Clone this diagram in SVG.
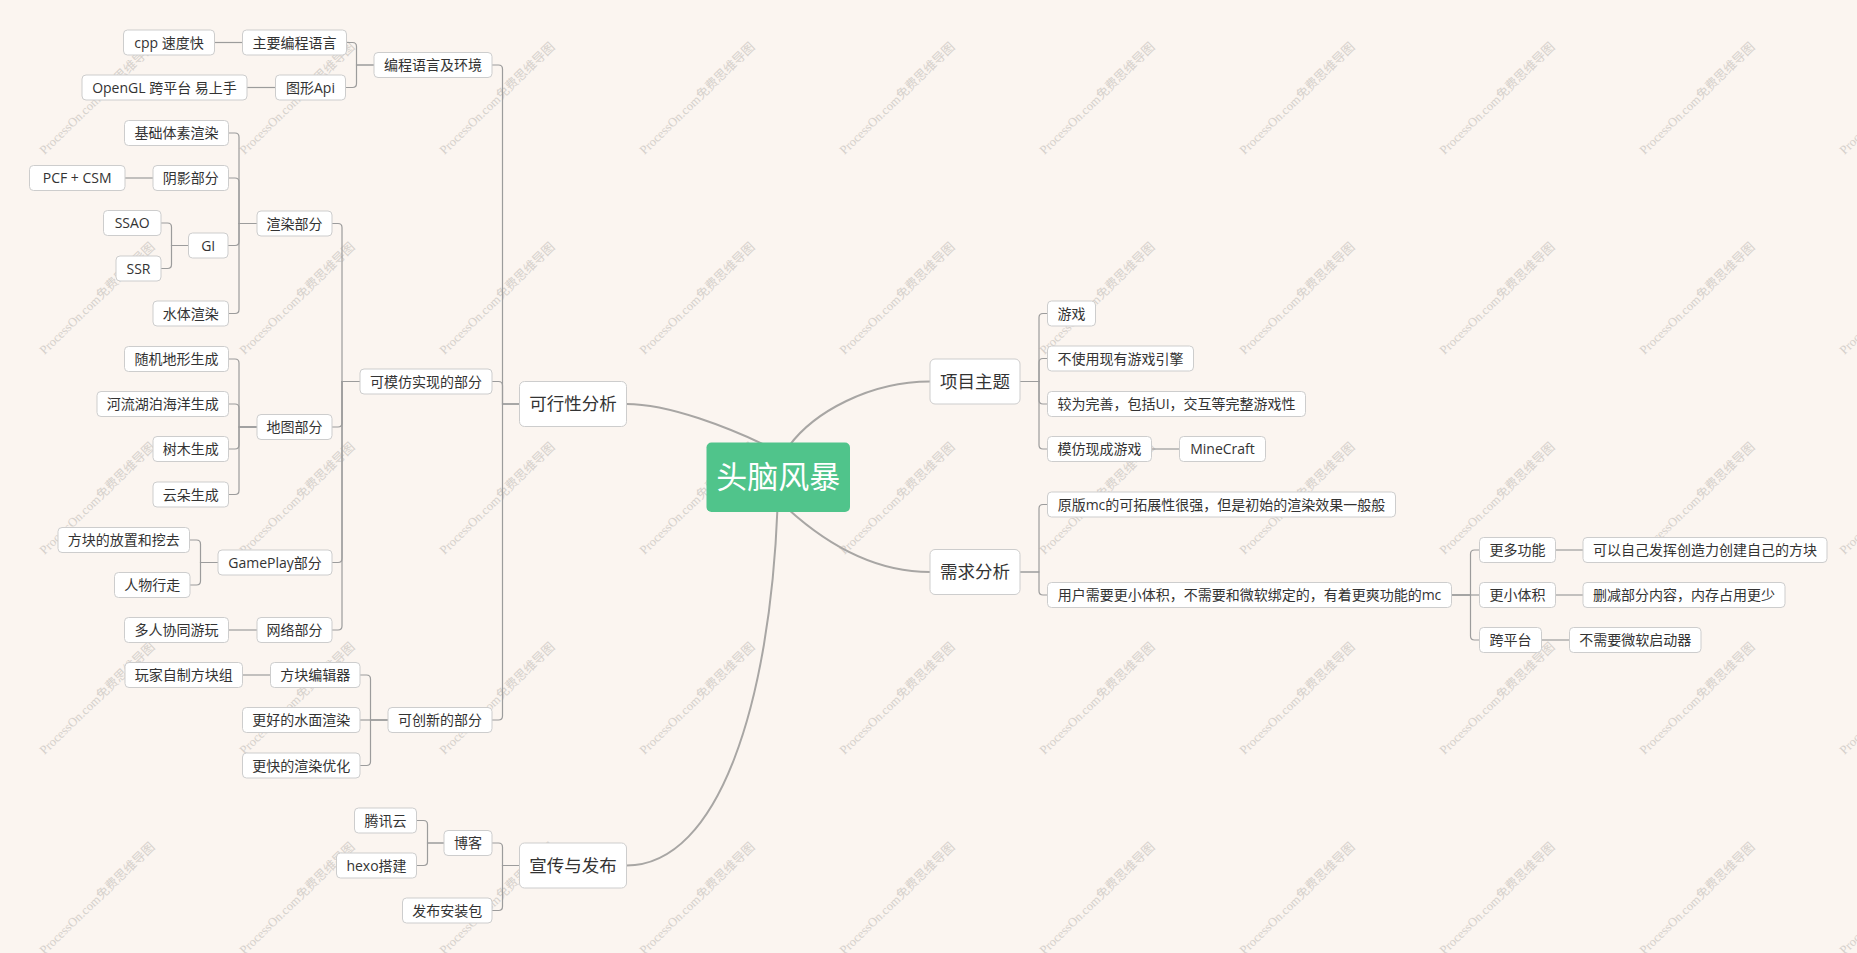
<svg xmlns="http://www.w3.org/2000/svg" xmlns:xlink="http://www.w3.org/1999/xlink" width="1857" height="953" viewBox="0 0 1857 953">
<style>
.bg{fill:#fbf5f0}
.wm{font-family:"Liberation Serif","Noto Sans CJK SC",serif;font-size:12.6px;fill:#d6d1cc}
.n rect{fill:#ffffff;stroke:#cdcdcd;stroke-width:1}
.n text{font-family:"Open Sans","Noto Sans CJK SC",sans-serif;font-size:14px;fill:#333333;text-anchor:middle}
.n2 rect{fill:#ffffff;stroke:#cdcdcd;stroke-width:1}
.n2 text{font-family:"Open Sans","Noto Sans CJK SC",sans-serif;font-size:17.5px;fill:#333333;text-anchor:middle}
.root rect{fill:#50c48b}
.root text{font-family:"Noto Sans CJK SC","Noto Sans",sans-serif;font-size:31px;fill:#ffffff;text-anchor:middle}
.c path{fill:none;stroke:#9c9c9c;stroke-width:1.2}
.m path{fill:none;stroke:#a8a6a4;stroke-width:2}
</style>
<defs>
<g id="wm"><text class="wm" transform="rotate(-44)">ProcessOn.com免费思维导图</text></g>
</defs>
<rect class="bg" x="0" y="0" width="1857" height="953"/>
<g id="watermarks">
<use xlink:href="#wm" x="44.6" y="155"/><use xlink:href="#wm" x="244.6" y="155"/><use xlink:href="#wm" x="444.6" y="155"/><use xlink:href="#wm" x="644.6" y="155"/><use xlink:href="#wm" x="844.6" y="155"/><use xlink:href="#wm" x="1044.6" y="155"/><use xlink:href="#wm" x="1244.6" y="155"/><use xlink:href="#wm" x="1444.6" y="155"/><use xlink:href="#wm" x="1644.6" y="155"/><use xlink:href="#wm" x="1844.6" y="155"/>
<use xlink:href="#wm" x="44.6" y="355"/><use xlink:href="#wm" x="244.6" y="355"/><use xlink:href="#wm" x="444.6" y="355"/><use xlink:href="#wm" x="644.6" y="355"/><use xlink:href="#wm" x="844.6" y="355"/><use xlink:href="#wm" x="1044.6" y="355"/><use xlink:href="#wm" x="1244.6" y="355"/><use xlink:href="#wm" x="1444.6" y="355"/><use xlink:href="#wm" x="1644.6" y="355"/><use xlink:href="#wm" x="1844.6" y="355"/>
<use xlink:href="#wm" x="44.6" y="555"/><use xlink:href="#wm" x="244.6" y="555"/><use xlink:href="#wm" x="444.6" y="555"/><use xlink:href="#wm" x="644.6" y="555"/><use xlink:href="#wm" x="844.6" y="555"/><use xlink:href="#wm" x="1044.6" y="555"/><use xlink:href="#wm" x="1244.6" y="555"/><use xlink:href="#wm" x="1444.6" y="555"/><use xlink:href="#wm" x="1644.6" y="555"/><use xlink:href="#wm" x="1844.6" y="555"/>
<use xlink:href="#wm" x="44.6" y="755"/><use xlink:href="#wm" x="244.6" y="755"/><use xlink:href="#wm" x="444.6" y="755"/><use xlink:href="#wm" x="644.6" y="755"/><use xlink:href="#wm" x="844.6" y="755"/><use xlink:href="#wm" x="1044.6" y="755"/><use xlink:href="#wm" x="1244.6" y="755"/><use xlink:href="#wm" x="1444.6" y="755"/><use xlink:href="#wm" x="1644.6" y="755"/><use xlink:href="#wm" x="1844.6" y="755"/>
<use xlink:href="#wm" x="44.6" y="955"/><use xlink:href="#wm" x="244.6" y="955"/><use xlink:href="#wm" x="444.6" y="955"/><use xlink:href="#wm" x="644.6" y="955"/><use xlink:href="#wm" x="844.6" y="955"/><use xlink:href="#wm" x="1044.6" y="955"/><use xlink:href="#wm" x="1244.6" y="955"/><use xlink:href="#wm" x="1444.6" y="955"/><use xlink:href="#wm" x="1644.6" y="955"/><use xlink:href="#wm" x="1844.6" y="955"/>
</g>
<g id="connectors">
<g class="m">
<path d="M765 445 C730 428.5 670 404 626.5 404"/>
<path d="M789 446 C814 412 870 381.5 930 381.5"/>
<path d="M788 509 C821 539 870 572 930 572"/>
<path d="M777.5 508 C770 700 720 865.5 626.5 865.5"/>
</g>
<g class="c">
<path d="M374 65 H356.5 V46.5 Q356.5 42.5 352.5 42.5 H346.5"/>
<path d="M374 65 H356.5 V83.5 Q356.5 87.5 352.5 87.5 H345.5"/>
<path d="M242.5 42.5 H214.5"/>
<path d="M275.5 87.5 H247"/>
<path d="M519.5 404 H502.5 V69 Q502.5 65 498.5 65 H492"/>
<path d="M519.5 404 H502.5 V385.5 Q502.5 381.5 498.5 381.5 H492"/>
<path d="M519.5 404 H502.5 V716 Q502.5 720 498.5 720 H492"/>
<path d="M360 381.5 H342 V227.5 Q342 223.5 338 223.5 H332"/>
<path d="M360 381.5 H342 V423 Q342 427 338 427 H332"/>
<path d="M360 381.5 H342 V558.5 Q342 562.5 338 562.5 H332"/>
<path d="M360 381.5 H342 V626 Q342 630 338 630 H332"/>
<path d="M257 223.5 H239 V137 Q239 133 235 133 H228.5"/>
<path d="M257 223.5 H239 V182 Q239 178 235 178 H228.5"/>
<path d="M257 223.5 H239 V241.5 Q239 245.5 235 245.5 H228"/>
<path d="M257 223.5 H239 V309.5 Q239 313.5 235 313.5 H228.5"/>
<path d="M153 178 H125"/>
<path d="M188.5 245.5 H171.5 V227 Q171.5 223 167.5 223 H161"/>
<path d="M188.5 245.5 H171.5 V264.5 Q171.5 268.5 167.5 268.5 H161"/>
<path d="M257 427 H239 V363 Q239 359 235 359 H228.5"/>
<path d="M257 427 H239 V408 Q239 404 235 404 H228.5"/>
<path d="M257 427 H239 V445 Q239 449 235 449 H228.5"/>
<path d="M257 427 H239 V490.5 Q239 494.5 235 494.5 H228.5"/>
<path d="M218 562.5 H200.5 V544 Q200.5 540 196.5 540 H189.5"/>
<path d="M218 562.5 H200.5 V581 Q200.5 585 196.5 585 H190"/>
<path d="M257 630 H228.5"/>
<path d="M388 720 H370.5 V679 Q370.5 675 366.5 675 H360"/>
<path d="M388 720 H360"/>
<path d="M388 720 H370.5 V761.5 Q370.5 765.5 366.5 765.5 H360"/>
<path d="M270.5 675 H242.5"/>
<path d="M519.5 865.5 H502.5 V847 Q502.5 843 498.5 843 H492"/>
<path d="M519.5 865.5 H502.5 V906.5 Q502.5 910.5 498.5 910.5 H492"/>
<path d="M444 843 H427.5 V824.5 Q427.5 820.5 423.5 820.5 H416.5"/>
<path d="M444 843 H427.5 V861.5 Q427.5 865.5 423.5 865.5 H416.5"/>
<path d="M1020 381.5 H1039 V317.5 Q1039 313.5 1043 313.5 H1047.5"/>
<path d="M1020 381.5 H1039 V362.5 Q1039 358.5 1043 358.5 H1047.5"/>
<path d="M1020 381.5 H1039 V400 Q1039 404 1043 404 H1047.5"/>
<path d="M1020 381.5 H1039 V445 Q1039 449 1043 449 H1047.5"/>
<path d="M1151.5 449 H1179.5"/>
<path d="M1020 572 H1039 V508.5 Q1039 504.5 1043 504.5 H1047.5"/>
<path d="M1020 572 H1039 V591 Q1039 595 1043 595 H1047.5"/>
<path d="M1451.5 595 H1470.5 V554 Q1470.5 550 1474.5 550 H1479.5"/>
<path d="M1451.5 595 H1479.5"/>
<path d="M1451.5 595 H1470.5 V636 Q1470.5 640 1474.5 640 H1479.5"/>
<path d="M1555.5 550 H1583"/>
<path d="M1555.5 595 H1583"/>
<path d="M1541.5 640 H1569.5"/>
</g>
</g>
<g id="root" class="root"><rect x="706.5" y="442.5" width="143.5" height="69.5" rx="5"/><text x="778.2" y="488">头脑风暴</text></g>
<g id="n-kxx" class="n2"><rect x="519.5" y="381.5" width="107" height="45" rx="5"/><text x="573" y="410.3">可行性分析</text></g>
<g id="n-xc" class="n2"><rect x="519.5" y="843" width="107" height="45" rx="5"/><text x="573" y="871.8">宣传与发布</text></g>
<g id="n-xm" class="n2"><rect x="930" y="359" width="90" height="45" rx="5"/><text x="975" y="387.8">项目主题</text></g>
<g id="n-xq" class="n2"><rect x="930" y="549.5" width="90" height="45" rx="5"/><text x="975" y="578.3">需求分析</text></g>
<g id="n1" class="n"><rect x="123.5" y="30" width="91" height="25" rx="4"/><text x="169" y="47.5">cpp 速度快</text></g>
<g id="n2" class="n"><rect x="242.5" y="30" width="104" height="25" rx="4"/><text x="294.5" y="47.5">主要编程语言</text></g>
<g id="n3" class="n"><rect x="275.5" y="75" width="70" height="25" rx="4"/><text x="310.5" y="92.5">图形Api</text></g>
<g id="n4" class="n"><rect x="82" y="75" width="165" height="25" rx="4"/><text x="164.5" y="92.5">OpenGL 跨平台 易上手</text></g>
<g id="n5" class="n"><rect x="374" y="52.5" width="118" height="25" rx="4"/><text x="433" y="70">编程语言及环境</text></g>
<g id="n6" class="n"><rect x="124.5" y="120.5" width="104" height="25" rx="4"/><text x="176.5" y="138">基础体素渲染</text></g>
<g id="n7" class="n"><rect x="153" y="165.5" width="75.5" height="25" rx="4"/><text x="190.7" y="183">阴影部分</text></g>
<g id="n8" class="n"><rect x="29.5" y="165.5" width="95.5" height="25" rx="4"/><text x="77.2" y="183">PCF + CSM</text></g>
<g id="n9" class="n"><rect x="257" y="211" width="75" height="25" rx="4"/><text x="294.5" y="228.5">渲染部分</text></g>
<g id="n10" class="n"><rect x="103.5" y="210.5" width="57.5" height="25" rx="4"/><text x="132.2" y="228">SSAO</text></g>
<g id="n11" class="n"><rect x="188.5" y="233" width="39.5" height="25" rx="4"/><text x="208.2" y="250.5">GI</text></g>
<g id="n12" class="n"><rect x="116" y="256" width="45" height="25" rx="4"/><text x="138.5" y="273.5">SSR</text></g>
<g id="n13" class="n"><rect x="153" y="301" width="75.5" height="25" rx="4"/><text x="190.7" y="318.5">水体渲染</text></g>
<g id="n14" class="n"><rect x="124.5" y="346.5" width="104" height="25" rx="4"/><text x="176.5" y="364">随机地形生成</text></g>
<g id="n15" class="n"><rect x="97" y="391.5" width="131.5" height="25" rx="4"/><text x="162.7" y="409">河流湖泊海洋生成</text></g>
<g id="n16" class="n"><rect x="153" y="436.5" width="75.5" height="25" rx="4"/><text x="190.7" y="454">树木生成</text></g>
<g id="n17" class="n"><rect x="153" y="482" width="75.5" height="25" rx="4"/><text x="190.7" y="499.5">云朵生成</text></g>
<g id="n18" class="n"><rect x="257" y="414.5" width="75" height="25" rx="4"/><text x="294.5" y="432">地图部分</text></g>
<g id="n19" class="n"><rect x="360" y="369" width="132" height="25" rx="4"/><text x="426" y="386.5">可模仿实现的部分</text></g>
<g id="n20" class="n"><rect x="58" y="527.5" width="131.5" height="25" rx="4"/><text x="123.7" y="545">方块的放置和挖去</text></g>
<g id="n21" class="n"><rect x="114.5" y="572.5" width="75.5" height="25" rx="4"/><text x="152.2" y="590">人物行走</text></g>
<g id="n22" class="n"><rect x="218" y="550" width="114" height="25" rx="4"/><text x="275" y="567.5">GamePlay部分</text></g>
<g id="n23" class="n"><rect x="124.5" y="617.5" width="104" height="25" rx="4"/><text x="176.5" y="635">多人协同游玩</text></g>
<g id="n24" class="n"><rect x="257" y="617.5" width="75" height="25" rx="4"/><text x="294.5" y="635">网络部分</text></g>
<g id="n25" class="n"><rect x="125" y="662.5" width="117.5" height="25" rx="4"/><text x="183.7" y="680">玩家自制方块组</text></g>
<g id="n26" class="n"><rect x="270.5" y="662.5" width="89.5" height="25" rx="4"/><text x="315.2" y="680">方块编辑器</text></g>
<g id="n27" class="n"><rect x="242.5" y="707.5" width="117.5" height="25" rx="4"/><text x="301.2" y="725">更好的水面渲染</text></g>
<g id="n28" class="n"><rect x="242.5" y="753" width="117.5" height="25" rx="4"/><text x="301.2" y="770.5">更快的渲染优化</text></g>
<g id="n29" class="n"><rect x="388" y="707.5" width="104" height="25" rx="4"/><text x="440" y="725">可创新的部分</text></g>
<g id="n30" class="n"><rect x="354.5" y="808" width="62" height="25" rx="4"/><text x="385.5" y="825.5">腾讯云</text></g>
<g id="n31" class="n"><rect x="336.5" y="853" width="80" height="25" rx="4"/><text x="376.5" y="870.5">hexo搭建</text></g>
<g id="n32" class="n"><rect x="444" y="830.5" width="48" height="25" rx="4"/><text x="468" y="848">博客</text></g>
<g id="n33" class="n"><rect x="402.5" y="898" width="89.5" height="25" rx="4"/><text x="447.2" y="915.5">发布安装包</text></g>
<g id="n34" class="n"><rect x="1047.5" y="301" width="48" height="25" rx="4"/><text x="1071.5" y="318.5">游戏</text></g>
<g id="n35" class="n"><rect x="1047.5" y="346" width="146" height="25" rx="4"/><text x="1120.5" y="363.5">不使用现有游戏引擎</text></g>
<g id="n36" class="n"><rect x="1047.5" y="391.5" width="258" height="25" rx="4"/><text x="1176.5" y="409">较为完善，包括UI，交互等完整游戏性</text></g>
<g id="n37" class="n"><rect x="1047.5" y="436.5" width="104" height="25" rx="4"/><text x="1099.5" y="454">模仿现成游戏</text></g>
<g id="n38" class="n"><rect x="1179.5" y="436.5" width="86" height="25" rx="4"/><text x="1222.5" y="454">MineCraft</text></g>
<g id="n39" class="n"><rect x="1047.5" y="492" width="348" height="25" rx="4"/><text x="1221.5" y="509.5">原版mc的可拓展性很强，但是初始的渲染效果一般般</text></g>
<g id="n40" class="n"><rect x="1047.5" y="582.5" width="404" height="25" rx="4"/><text x="1249.5" y="600">用户需要更小体积，不需要和微软绑定的，有着更爽功能的mc</text></g>
<g id="n41" class="n"><rect x="1479.5" y="537.5" width="76" height="25" rx="4"/><text x="1517.5" y="555">更多功能</text></g>
<g id="n42" class="n"><rect x="1583" y="537.5" width="244" height="25" rx="4"/><text x="1705" y="555">可以自己发挥创造力创建自己的方块</text></g>
<g id="n43" class="n"><rect x="1479.5" y="582.5" width="76" height="25" rx="4"/><text x="1517.5" y="600">更小体积</text></g>
<g id="n44" class="n"><rect x="1583" y="582.5" width="202" height="25" rx="4"/><text x="1684" y="600">删减部分内容，内存占用更少</text></g>
<g id="n45" class="n"><rect x="1479.5" y="627.5" width="62" height="25" rx="4"/><text x="1510.5" y="645">跨平台</text></g>
<g id="n46" class="n"><rect x="1569.5" y="627.5" width="131.5" height="25" rx="4"/><text x="1635.2" y="645">不需要微软启动器</text></g>
</svg>
